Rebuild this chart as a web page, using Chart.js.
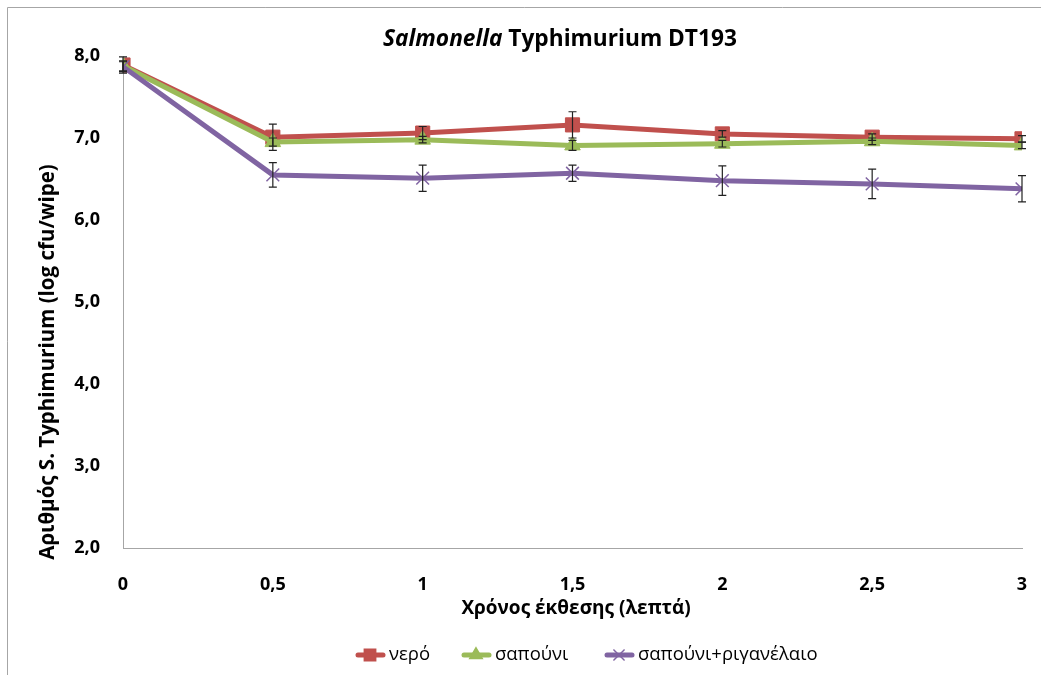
<!DOCTYPE html>
<html>
<head>
<meta charset="utf-8">
<script src="https://cdn.jsdelivr.net/npm/chart.js@4.4.1/dist/chart.umd.min.js"></script>
<style>
  html, body { margin: 0; padding: 0; background: #fff; }
  #wrap { position: relative; width: 1041px; height: 675px; }
</style>
</head>
<body>
<div id="wrap"><canvas id="chart" width="1041" height="675"></canvas></div>
<script>
// ── Data ───────────────────────────────────────────────────────
const times       = [0, 0.5, 1, 1.5, 2, 2.5, 3];
const seriesNames = ['νερό', 'σαπούνι', 'σαπούνι+ριγανέλαιο'];
const water       = [7.89, 7.01, 7.06, 7.16, 7.05, 7.01, 6.99];
const soap        = [7.88, 6.95, 6.98, 6.91, 6.93, 6.96, 6.91];
const soapOregano = [7.87, 6.55, 6.51, 6.57, 6.48, 6.44, 6.38];
const waterErr    = [0.10, 0.16, 0.08, 0.16, 0.04, 0.04, 0.04];
const soapErr     = [0.06, 0.05, 0.04, 0.06, 0.04, 0.04, 0.04];
const oreganoErr  = [0.06, 0.15, 0.16, 0.10, 0.18, 0.18, 0.16];
const yTicks      = [2, 3, 4, 5, 6, 7, 8];

const COLORS  = ['#C0504D', '#9BBB59', '#8064A2'];
const MARKERS = ['rect', 'triangle', 'crossRot'];
const RADII   = [10, 9, 9];
const FONT    = '"Open Sans", "DejaVu Sans", sans-serif';

const comma = v => String(v).replace('.', ',');

function makeSet(i, values, errs) {
  return {
    label: seriesNames[i],
    data: times.map((t, k) => ({ x: t, y: values[k] })),
    errors: errs,
    borderColor: COLORS[i],
    backgroundColor: COLORS[i],
    pointBorderColor: COLORS[i],
    pointBackgroundColor: COLORS[i],
    pointStyle: MARKERS[i],
    pointRadius: RADII[i],
    pointBorderWidth: i === 2 ? 1.5 : 1,
    borderWidth: 5,
    tension: 0,
    order: 3 - i
  };
}

// ── Plugins ────────────────────────────────────────────────────
const frame = {
  id: 'frame',
  beforeDraw(chart) {
    const c = chart.ctx;
    c.save();
    c.fillStyle = '#fff';
    c.fillRect(0, 0, chart.width, chart.height);
    c.strokeStyle = '#a6a6a6';
    c.lineWidth = 1;
    c.beginPath();
    c.moveTo(7.5, chart.height);
    c.lineTo(7.5, 7.5);
    c.lineTo(chart.width, 7.5);
    c.stroke();
    c.restore();
  }
};

const errorBars = {
  id: 'errorBars',
  afterDatasetsDraw(chart) {
    const { ctx: c, scales } = chart;
    c.save();
    c.strokeStyle = '#222';
    c.lineWidth = 1.2;
    chart.data.datasets.forEach(ds => {
      ds.data.forEach((p, k) => {
        const e = ds.errors[k];
        const x = scales.x.getPixelForValue(p.x);
        const y1 = scales.y.getPixelForValue(p.y + e);
        const y2 = scales.y.getPixelForValue(p.y - e);
        c.beginPath();
        c.moveTo(x, y1); c.lineTo(x, y2);
        c.moveTo(x - 4, y1); c.lineTo(x + 4, y1);
        c.moveTo(x - 4, y2); c.lineTo(x + 4, y2);
        c.stroke();
      });
    });
    c.restore();
  }
};

const texts = {
  id: 'texts',
  afterDraw(chart) {
    const c = chart.ctx;
    c.save();
    c.fillStyle = '#000';
    c.textBaseline = 'middle';

    // title, mixed italic / upright
    const part1 = 'Salmonella', part2 = ' Typhimurium DT193';
    c.font = `italic bold 22.7px ${FONT}`;
    const w1 = c.measureText(part1).width;
    c.font = `bold 22.7px ${FONT}`;
    const w2 = c.measureText(part2).width;
    let x0 = 560 - (w1 + w2) / 2;
    c.textAlign = 'left';
    c.font = `italic bold 22.7px ${FONT}`;
    c.fillText(part1, x0, 40);
    c.font = `bold 22.7px ${FONT}`;
    c.fillText(part2, x0 + w1, 40);

    // axis titles
    c.textAlign = 'center';
    c.font = `bold 19px ${FONT}`;
    c.fillText('Χρόνος έκθεσης (λεπτά)', 576, 609);
    c.save();
    c.translate(48, 362);
    c.rotate(-Math.PI / 2);
    c.font = `bold 20.5px ${FONT}`;
    c.fillText('Αριθμός S. Typhimurium (log cfu/wipe)', 0, 0);
    c.restore();

    // legend: line + marker, then label
    const starts = [355, 461, 604];
    c.font = `18.5px ${FONT}`;
    c.textAlign = 'left';
    chart.data.datasets.forEach((ds, i) => {
      const lx = starts[i], ly = 655;
      c.strokeStyle = COLORS[i];
      c.lineWidth = 5;
      c.lineCap = 'round';
      c.beginPath();
      c.moveTo(lx + 3, ly); c.lineTo(lx + 28, ly);
      c.stroke();
      c.fillStyle = COLORS[i];
      c.strokeStyle = COLORS[i];
      c.lineWidth = 1.5;
      Chart.helpers.drawPoint(c, {
        pointStyle: MARKERS[i], radius: RADII[i] * 0.8, rotation: 0,
        borderWidth: 1.5
      }, lx + 15, ly);
      c.fillStyle = '#000';
      c.fillText(ds.label, lx + 34, ly);
    });
    c.restore();
  }
};

// ── Chart ──────────────────────────────────────────────────────
new Chart(document.getElementById('chart'), {
  type: 'line',
  data: {
    datasets: [
      makeSet(0, water, waterErr),
      makeSet(1, soap, soapErr),
      makeSet(2, soapOregano, oreganoErr)
    ]
  },
  options: {
    responsive: false,
    animation: false,
    layout: { padding: { left: 0, top: 56, right: 19, bottom: 0 } },
    plugins: { legend: { display: false }, tooltip: { enabled: false } },
    scales: {
      x: {
        type: 'linear', min: 0, max: 3,
        grid: { display: false },
        border: { display: true, color: '#a6a6a6', width: 1 },
        afterFit: s => { s.height = 675 - 548; s.paddingLeft = 0; s.paddingRight = 0; },
        afterBuildTicks: s => { s.ticks = times.map(v => ({ value: v })); },
        ticks: {
          padding: 18, color: '#000',
          font: { family: FONT, size: 18, weight: 'bold' },
          callback: v => comma(v)
        }
      },
      y: {
        min: 2, max: 8,
        grid: { display: false },
        border: { display: true, color: '#a6a6a6', width: 1 },
        afterFit: s => { s.width = 123; s.paddingTop = 0; s.paddingBottom = 0; },
        afterBuildTicks: s => { s.ticks = yTicks.map(v => ({ value: v })); },
        ticks: {
          padding: 15, color: '#000',
          font: { family: FONT, size: 18, weight: 'bold' },
          callback: v => v.toFixed(1).replace('.', ',')
        }
      }
    }
  },
  plugins: [frame, errorBars, texts]
});
</script>
</body>
</html>
